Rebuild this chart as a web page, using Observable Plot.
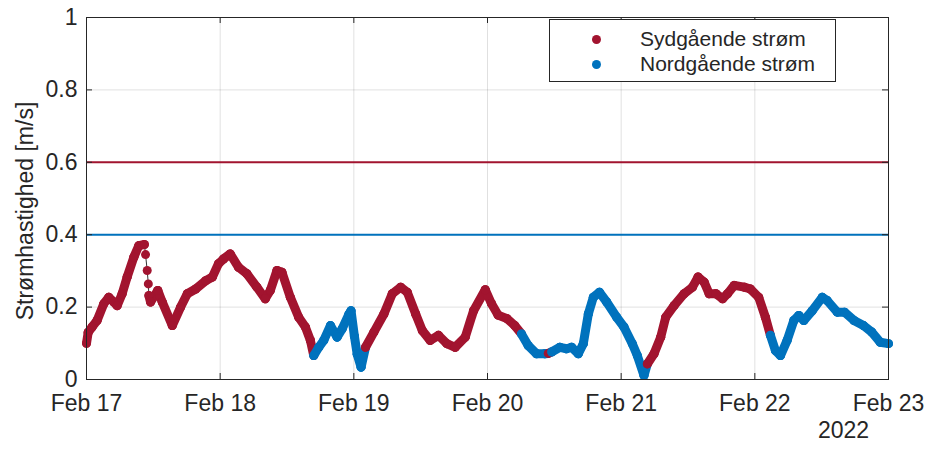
<!DOCTYPE html>
<html>
<head>
<meta charset="utf-8">
<script src="https://cdn.jsdelivr.net/npm/d3@7"></script>
<script src="https://cdn.jsdelivr.net/npm/@observablehq/plot@0.6"></script>
<style>
  html, body { margin: 0; padding: 0; background: #fff; }
  #wrap { position: relative; width: 930px; height: 452px; font-family: "Liberation Sans", Arial, Helvetica, sans-serif; color: #262626; }
  #legend { position: absolute; left: 549px; top: 19px; width: 287px; height: 63px; border: 1px solid #262626; background: #fff; box-sizing: border-box; }
  .row { position: absolute; left: 0; height: 26px; line-height: 26px; font-size: 21px; white-space: nowrap; }
  .row span.dot { position: absolute; left: 42px; top: 8.5px; width: 9px; height: 9px; border-radius: 50%; }
  .row span.lab { position: absolute; left: 90px; }
  #ylabel { position: absolute; left: 25px; top: 211px; transform: translate(-50%, -50%) rotate(-90deg); font-size: 23px; white-space: nowrap; }
</style>
</head>
<body>
<div id="wrap">
  <div id="chart"></div>
  <div id="ylabel"></div>
  <div id="legend"></div>
</div>
<script>
// Current speed, 17–23 Feb 2022. Time is in hours after 17 Feb 2022 00:00 (UTC).
const hours = [
  0.0, 0.3, 1.0, 1.9, 3.1, 4.0, 4.9, 5.5, 6.4, 7.3, 8.5, 9.4, 10.4, 10.6, 10.9, 11.1, 11.2, 11.5,
  12.8, 13.6, 15.4, 16.9, 18.1, 19.6, 21.4, 22.6, 23.7, 24.6, 25.8, 27.3, 28.8, 30.6, 32.1, 33.0,
  34.2, 35.1, 36.6, 38.1, 39.3, 40.2, 40.8, 41.7, 42.6, 43.8, 45.0, 45.9, 47.1, 47.5, 48.1, 48.6,
  49.3, 50.1, 51.6, 53.4, 54.9, 56.4, 57.6, 59.1, 60.3, 61.7, 63.2, 64.7, 66.2, 68.0, 69.5, 71.6,
  72.7, 73.9, 75.5, 76.9, 78.1, 79.3, 80.8, 82.3, 82.9, 83.5, 85.0, 86.2, 87.1, 88.3, 89.2, 90.1,
  91.0, 92.1, 93.4, 95.2, 96.5, 98.0, 98.9, 100.1, 100.7, 101.9, 103.1, 104.0, 105.5, 107.3, 108.8,
  109.8, 110.9, 111.8, 113.0, 114.2, 115.1, 116.3, 118.1, 119.2, 120.7, 121.9, 122.8, 123.7, 124.6,
  125.8, 127.0, 127.9, 128.8, 130.3, 132.1, 133.0, 134.8, 136.1, 137.8, 139.5, 141.0, 142.5, 144.0
];
// Speed in m/s
const speed = [
  0.100, 0.130, 0.145, 0.163, 0.209, 0.227, 0.214, 0.204, 0.237, 0.283, 0.338, 0.370, 0.373, 0.345, 0.301, 0.264, 0.232, 0.214,
  0.246, 0.214, 0.149, 0.200, 0.237, 0.250, 0.273, 0.283, 0.320, 0.333, 0.347, 0.310, 0.292, 0.255, 0.223, 0.246,
  0.301, 0.296, 0.227, 0.172, 0.145, 0.108, 0.066, 0.089, 0.108, 0.149, 0.117, 0.140, 0.180, 0.190, 0.120, 0.070,
  0.034, 0.089, 0.131, 0.181, 0.237, 0.255, 0.241, 0.181, 0.135, 0.108, 0.122, 0.099, 0.089, 0.117, 0.190, 0.248,
  0.210, 0.178, 0.168, 0.149, 0.126, 0.094, 0.071, 0.071, 0.072, 0.076, 0.089, 0.085, 0.089, 0.071, 0.099, 0.181,
  0.227, 0.241, 0.214, 0.172, 0.145, 0.099, 0.066, 0.011, 0.043, 0.071, 0.117, 0.172, 0.204, 0.237, 0.255,
  0.283, 0.269, 0.237, 0.237, 0.223, 0.237, 0.260, 0.255, 0.250, 0.227, 0.172, 0.122, 0.080, 0.066,
  0.108, 0.163, 0.177, 0.163, 0.190, 0.227, 0.218, 0.186, 0.186, 0.163, 0.149, 0.131, 0.103, 0.099
];
// Flow direction: S = southbound, N = northbound
const direction = [
  "S","S","S","S","S","S","S","S","S","S","S","S","S","S","S","S","S","S",
  "S","S","S","S","S","S","S","S","S","S","S","S","S","S","S","S",
  "S","S","S","S","S","S","N","N","N","N","N","N","N","N","N","N",
  "N","S","S","S","S","S","S","S","S","S","S","S","S","S","S","S",
  "S","S","S","S","N","N","N","N","S","N","N","N","N","N","N","N",
  "N","N","N","N","N","N","N","N","S","S","S","S","S","S","S",
  "S","S","S","S","S","S","S","S","S","S","S","N","N","N",
  "N","N","N","N","N","N","N","N","N","N","N","N","N","N"
];

const directionNames = {S: "Sydgående strøm", N: "Nordgående strøm"};
const directionColors = {S: "#A2142F", N: "#0072BD"};

// Threshold levels
const thresholds = [
  {value: 0.6, dir: "S"},
  {value: 0.4, dir: "N"}
];

const dayTicks = ["2022-02-17", "2022-02-18", "2022-02-19", "2022-02-20", "2022-02-21", "2022-02-22", "2022-02-23"];
const speedTicks = [0, 0.2, 0.4, 0.6, 0.8, 1];
const yearLabel = "2022";
const yLabel = "Strømhastighed [m/s]";

const t0 = Date.UTC(2022, 1, 17);
const xTicks = dayTicks.map(s => new Date(s + "T00:00:00Z"));
const points = hours.map((h, i) => ({t: new Date(t0 + h * 3600e3), h, v: speed[i], dir: direction[i]}));
// Consecutive samples are joined by a marker band, except where the speed changes
// so fast that the individual markers separate (only the thin trace remains there).
const segments = d3.pairs(points)
  .filter(([a, b]) => Math.abs(b.v - a.v) / (b.h - a.h) < 0.12)
  .map(([a, b]) => ({t1: a.t, v1: a.v, t2: b.t, v2: b.v, dir: a.dir}));

const W = 930, H = 452;
const mL = 86, mR = 42, mT = 17, mB = 73;
const fw = W - mL - mR, fh = H - mT - mB;
const ink = "#262626";

const chart = Plot.plot({
  width: W,
  height: H,
  marginLeft: mL,
  marginRight: mR,
  marginTop: mT,
  marginBottom: mB,
  style: {fontFamily: "'Liberation Sans', Arial, Helvetica, sans-serif", fontSize: "23px", color: ink, background: "#fff"},
  x: {type: "utc", domain: [xTicks[0], xTicks[xTicks.length - 1]]},
  y: {domain: [0, 1]},
  marks: [
    Plot.gridX(xTicks, {stroke: "#000", strokeOpacity: 0.12}),
    Plot.gridY(speedTicks, {stroke: "#000", strokeOpacity: 0.12}),
    Plot.ruleY(thresholds, {y: "value", stroke: d => directionColors[d.dir], strokeWidth: 2}),
    Plot.line(points, {x: "t", y: "v", stroke: "#333", strokeWidth: 1}),
    Plot.link(segments, {x1: "t1", y1: "v1", x2: "t2", y2: "v2", stroke: d => directionColors[d.dir], strokeWidth: 9, strokeLinecap: "round"}),
    Plot.dot(points, {x: "t", y: "v", r: 4.5, fill: d => directionColors[d.dir]}),
    // inward tick marks on all four sides
    Plot.tickX(xTicks, {x: d => d, stroke: ink, insetTop: fh - 6}),
    Plot.tickX(xTicks, {x: d => d, stroke: ink, insetBottom: fh - 6}),
    Plot.tickY(speedTicks, {y: d => d, stroke: ink, insetRight: fw - 6}),
    Plot.tickY(speedTicks, {y: d => d, stroke: ink, insetLeft: fw - 6}),
    Plot.frame({stroke: ink, strokeWidth: 1}),
    Plot.axisX(xTicks, {tickSize: 0, tickPadding: 15, tickFormat: d3.utcFormat("%b %-d"), label: null, fill: ink}),
    Plot.axisY(speedTicks, {tickSize: 0, tickPadding: 9, tickFormat: d => `${d}`, label: null, fill: ink}),
    Plot.text([yearLabel], {x: [xTicks[xTicks.length - 1]], frameAnchor: "bottom", dy: 58, dx: -45, fill: ink, fontSize: 23})
  ]
});
document.getElementById("chart").appendChild(chart);
document.getElementById("ylabel").textContent = yLabel;

// legend
const legend = document.getElementById("legend");
["S", "N"].forEach((k, i) => {
  const row = document.createElement("div");
  row.className = "row";
  row.style.top = (6 + i * 25) + "px";
  row.innerHTML = `<span class="dot" style="background:${directionColors[k]}"></span><span class="lab">${directionNames[k]}</span>`;
  legend.appendChild(row);
});
</script>
</body>
</html>
